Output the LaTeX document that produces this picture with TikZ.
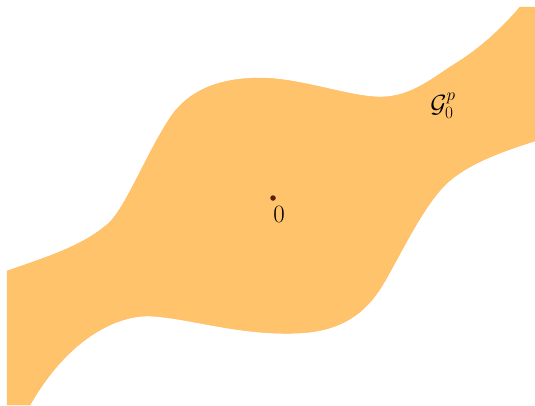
\documentclass[tikz,border=0pt]{standalone}
\usepackage{amsmath}
\definecolor{bandcol}{RGB}{255,195,108}
\definecolor{dotcol}{RGB}{90,30,10}
\begin{document}
\begin{tikzpicture}[x=1pt,y=-1pt,
  band/.style={fill=bandcol,draw=bandcol!90!orange,line width=0.4pt},
  dotstyle/.style={circle,fill=dotcol,inner sep=0pt,minimum size=5.5pt},
  lbl/.style={inner sep=0pt,font=\fontsize{24}{28}\selectfont}]
\useasboundingbox (0,0) rectangle (535,405);
\path[band]
  (7,271) .. controls (50,256) and (85,245) .. (110,222)
  .. controls (128,203) and (148,150) .. (172,115)
  .. controls (190,90) and (220,78) .. (260,78)
  .. controls (300,78) and (350,97) .. (380,97)
  .. controls (412,97) and (432,78) .. (458,62)
  .. controls (482,47) and (505,25) .. (520,7)
  -- (535,7) -- (535,141)
  .. controls (500,152) and (465,165) .. (445,185)
  .. controls (425,205) and (405,245) .. (390,272)
  .. controls (375,300) and (355,330) .. (300,333)
  .. controls (240,336) and (190,318) .. (150,316)
  .. controls (120,315) and (70,335) .. (30,405)
  -- (7,405) -- cycle;
\node[dotstyle] (o) at (273,198) {};
\node[lbl] (olab) at (279,214) {$0$};
\node[lbl] (g) at (443,106) {$\mathcal{G}_0^p$};
\end{tikzpicture}
\end{document}
